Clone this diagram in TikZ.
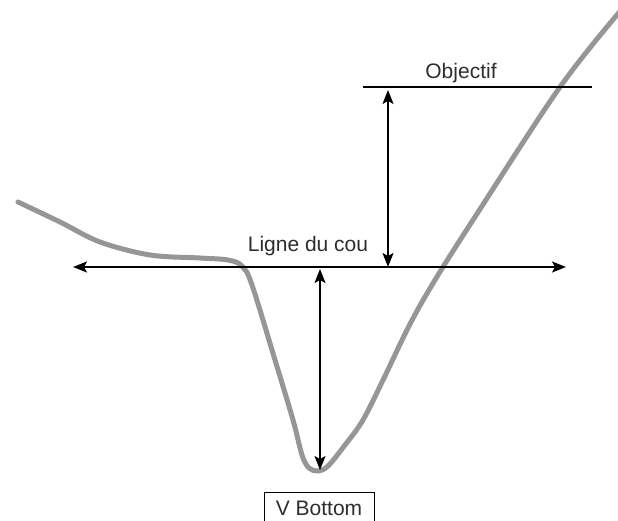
\documentclass[tikz,border=0pt]{standalone}
\usepackage{fontspec}
\setmainfont{Liberation Sans}
\usetikzlibrary{arrows.meta}
\definecolor{txt}{RGB}{45,45,45}
\definecolor{curvegray}{RGB}{150,150,152}
\tikzset{
  lbl/.style={font=\fontsize{21pt}{24pt}\selectfont, text=txt, inner sep=0pt},
  refline/.style={line width=1.3pt, draw=black},
  dblarrow/.style={line width=1.3pt, draw=black, {Stealth[length=14pt,width=11pt,inset=3pt]}-{Stealth[length=14pt,width=11pt,inset=3pt]}},
  curveline/.style={line width=5pt, draw=curvegray, line cap=round},
  boxlbl/.style={lbl, draw=black, line width=1pt, minimum width=110pt, inner ysep=7pt, text height=15.5pt, text depth=0pt}
}
\begin{document}
\begin{tikzpicture}[x=1pt,y=-1pt]
\useasboundingbox (0,0) rectangle (618,521);
% price curve
\draw[curveline] plot[smooth, tension=0.55] coordinates {
 (18,202) (60,222) (100,242) (150,255) (200,258) (228,260) (242,266) (252,285)
 (275,360) (293,420) (302,455) (309,468) (318,471) (328,466) (345,445) (363,420)
 (384,378) (410,324) (435,280) (473,220) (560,87) (622,9)};
% objective line
\coordinate (objL) at (363,87);
\coordinate (objR) at (592,87);
\draw[refline] (objL) -- (objR);
\node[lbl, anchor=base] (obj) at (461,79) {Objectif};
% neckline
\coordinate (neckL) at (73,267);
\coordinate (neckR) at (566,267);
\draw[dblarrow] (neckL) -- (neckR);
\node[lbl, anchor=base] (neck) at (308,252) {Ligne du cou};
% objective distance
\coordinate (objA) at (388,90);
\coordinate (neckA) at (388,267);
\draw[dblarrow] (objA) -- (neckA);
% depth
\coordinate (neckB) at (320,269);
\coordinate (bottom) at (320,470);
\draw[dblarrow] (neckB) -- (bottom);
% V bottom label
\node[boxlbl, anchor=base] (vb) at (319,515) {V Bottom};
\end{tikzpicture}
\end{document}
